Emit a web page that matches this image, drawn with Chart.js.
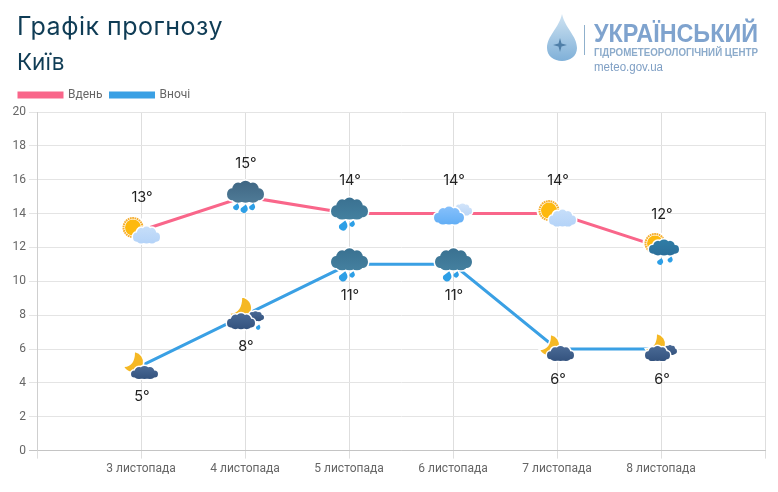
<!DOCTYPE html>
<html>
<head>
<meta charset="utf-8">
<script src="https://cdn.jsdelivr.net/npm/chart.js@4"></script>
<style>
    html, body { margin: 0; padding: 0; background: #fff; }
    #page { position: relative; width: 778px; height: 492px; overflow: hidden; }
    #chart { position: absolute; left: 0; top: 0; }
    .title { position: absolute; left: 17px; color: #0f3c55; font-family: Inter, "Open Sans", sans-serif; white-space: nowrap; }
    #logo { position: absolute; left: 540px; top: 8px; }
</style>
</head>
<body>
<div id="page">
    <canvas id="chart" width="778" height="492"></canvas>
    <div class="title" style="top: 11px; font-size: 25px; letter-spacing: 0.5px;">Графік прогнозу</div>
    <div class="title" style="top: 48px; font-size: 22.5px;">Київ</div>
    <svg id="logo" width="230" height="72" viewBox="0 0 230 72">
        <defs>
            <linearGradient id="dropFill" x1="0" y1="0" x2="0" y2="1">
                <stop offset="0" stop-color="#cfe3f2"/>
                <stop offset="1" stop-color="#7fb0d8"/>
            </linearGradient>
        </defs>
        <path d="M22 6 C25 20 37 28 37 40 C37 48 30 53 22 53 C14 53 7 48 7 40 C7 28 19 20 22 6 Z" fill="url(#dropFill)"/>
        <path d="M20 30 L21.5 35.5 L27 37 L21.5 38.5 L20 44 L18.500 38.5 L13 37 L18.500 35.5 Z" fill="#4f7fa8"/>
        <line x1="44.5" y1="17" x2="44.5" y2="47" stroke="#8fb0cc" stroke-width="1"/>
        <text x="54" y="34" font-family="Liberation Sans" font-weight="700" font-size="25" fill="#7fa3ce" textLength="164" lengthAdjust="spacingAndGlyphs">УКРАЇНСЬКИЙ</text>
        <text x="54" y="48" font-family="Liberation Sans" font-weight="700" font-size="10" fill="#8cabcb" textLength="164" lengthAdjust="spacingAndGlyphs">ГІДРОМЕТЕОРОЛОГІЧНИЙ ЦЕНТР</text>
        <text x="54" y="63" font-family="Liberation Sans" font-size="12" fill="#7f9fc4" textLength="69" lengthAdjust="spacingAndGlyphs">meteo.gov.ua</text>
    </svg>
</div>
<script>
const dates = ['', '3 листопада', '4 листопада', '5 листопада', '6 листопада', '7 листопада', '8 листопада', ''];
const dayTemps = [null, 13, 15, 14, 14, 14, 12, null];
const nightTemps = [null, 5, 8, 11, 11, 6, 6, null];
const dayIcons = [null, 'sunCloud', 'rainThree', 'rainTwo', 'lightClouds', 'sunCloud', 'sunRain', null];
const nightIcons = [null, 'moonCloudLow', 'moonRain', 'rainTwo', 'rainTwo', 'moonCloud', 'moonTwo', null];

const HALO = 3;

function cloudPath(ctx, x, y, w, h) {
    const bumps = [
        [.13, .62, .13, .27], [.30, .40, .16, .32], [.50, .28, .17, .28],
        [.70, .40, .16, .32], [.87, .62, .13, .27], [.30, .76, .18, .24],
        [.50, .78, .18, .22], [.70, .76, .18, .24], [.50, .55, .30, .30]
    ];
    ctx.beginPath();
    bumps.forEach((b) => {
        ctx.moveTo(x + (b[0] + b[2]) * w, y + b[1] * h);
        ctx.ellipse(x + b[0] * w, y + b[1] * h, b[2] * w, b[3] * h, 0, 0, Math.PI * 2);
    });
}

function drawCloud(ctx, x, y, w, h, top, bottom) {
    cloudPath(ctx, x, y, w, h);
    ctx.strokeStyle = '#fff';
    ctx.lineWidth = HALO;
    ctx.stroke();
    const fill = ctx.createLinearGradient(0, y, 0, y + h);
    fill.addColorStop(0, top);
    fill.addColorStop(1, bottom);
    ctx.fillStyle = fill;
    ctx.fill();
}

function drawSun(ctx, x, y, r) {
    ctx.beginPath();
    ctx.arc(x, y, r + 1, 0, Math.PI * 2);
    ctx.strokeStyle = '#fff';
    ctx.lineWidth = HALO;
    ctx.stroke();
    ctx.fillStyle = '#fff';
    ctx.fill();
    ctx.beginPath();
    ctx.arc(x, y, r - 0.5, 0, Math.PI * 2);
    ctx.setLineDash([1.7, 0.6]);
    ctx.strokeStyle = '#f6ad2b';
    ctx.lineWidth = 2;
    ctx.stroke();
    ctx.setLineDash([]);
    ctx.beginPath();
    ctx.arc(x, y, r - 2, 0, Math.PI * 2);
    ctx.fillStyle = '#fdb90f';
    ctx.fill();
}

function drawMoon(ctx, x, y, r) {
    ctx.beginPath();
    ctx.arc(x, y, r, -1.37, 2.6);
    ctx.quadraticCurveTo(x + r * 0.2, y + r * 0.4, x + r * 0.2, y - r * 0.98);
    ctx.closePath();
    ctx.strokeStyle = '#fff';
    ctx.lineWidth = HALO;
    ctx.stroke();
    ctx.fillStyle = '#f5b824';
    ctx.fill();
}

function drawDrop(ctx, x, y, size) {
    ctx.beginPath();
    ctx.moveTo(x + size * 0.45, y - size);
    ctx.quadraticCurveTo(x + size * 1.2, y + size * 0.1, x + size * 0.7, y + size * 0.6);
    ctx.arc(x, y + size * 0.2, size * 0.8, 0.5, Math.PI + 0.4);
    ctx.closePath();
    ctx.fillStyle = '#2d9fe6';
    ctx.fill();
}

const iconPainters = {
    sunCloud(ctx, x, y) {
        drawSun(ctx, x - 8, y - 3, 10);
        drawCloud(ctx, x - 8, y - 4, 27, 17, '#c6def9', '#b4d3f8');
    },
    rainThree(ctx, x, y) {
        drawCloud(ctx, x - 18, y - 16, 37, 22, '#3f6683', '#4f7b97');
        drawDrop(ctx, x - 9, y + 10, 3.5);
        drawDrop(ctx, x - 1, y + 12, 4.2);
        drawDrop(ctx, x + 7, y + 10, 3.5);
    },
    rainTwo(ctx, x, y) {
        drawCloud(ctx, x - 18, y - 16, 37, 22, '#3a7191', '#44809f');
        drawDrop(ctx, x - 6, y + 12, 5);
        drawDrop(ctx, x + 3, y + 10, 3.2);
    },
    lightClouds(ctx, x, y) {
        drawCloud(ctx, x, y - 10, 19, 12, '#d2e4fa', '#bcd6f6');
        drawCloud(ctx, x - 19, y - 7, 30, 18, '#86c0fb', '#62aef5');
    },
    sunRain(ctx, x, y) {
        drawSun(ctx, x - 6, y - 4, 10);
        drawCloud(ctx, x - 12, y - 8, 30, 16, '#2f7da6', '#2c6f9a');
        drawDrop(ctx, x - 1, y + 14, 3.5);
        drawDrop(ctx, x + 9, y + 12, 3);
    },
    moonCloud(ctx, x, y) {
        drawMoon(ctx, x - 8, y - 4, 10);
        drawCloud(ctx, x - 10, y - 3, 27, 15, '#4a6a96', '#34537e');
    },
    moonCloudLow(ctx, x, y) {
        drawMoon(ctx, x - 8, y - 4, 10);
        drawCloud(ctx, x - 10, y, 27, 13, '#4a6a96', '#34537e');
    },
    moonRain(ctx, x, y) {
        drawMoon(ctx, x - 5, y - 7, 11);
        drawCloud(ctx, x + 2, y - 4, 17, 10, '#4a6a96', '#34537e');
        drawCloud(ctx, x - 18, y - 2, 28, 16, '#4a6a96', '#34537e');
        drawDrop(ctx, x + 13, y + 12, 2.6);
    },
    moonTwo(ctx, x, y) {
        drawMoon(ctx, x - 6, y - 5, 10);
        drawCloud(ctx, x + 2, y - 4, 14, 10, '#4a6a96', '#34537e');
        drawCloud(ctx, x - 16, y - 3, 25, 15, '#4a6a96', '#34537e');
    }
};

// icons and the degree labels are painted on top of the lines
const weatherMarks = {
    id: 'weatherMarks',
    beforeInit(chart) {
        // a little more room under the legend
        const fit = chart.legend.fit;
        chart.legend.fit = function () {
            fit.call(this);
            this.height += 1;
        };
    },
    afterDatasetsDraw(chart) {
        const ctx = chart.ctx;
        const x = chart.scales.x;
        const y = chart.scales.y;
        const series = [
            { temps: dayTemps, icons: dayIcons, shift: -33 },
            { temps: nightTemps, icons: nightIcons, shift: 31 }
        ];
        ctx.save();
        series.forEach((s) => {
            s.temps.forEach((temp, i) => {
                if (temp === null) {
                    return;
                }
                const px = x.getPixelForValue(i);
                const py = y.getPixelForValue(temp);
                iconPainters[s.icons[i]](ctx, px, py);
                ctx.fillStyle = '#222';
                ctx.font = '14.5px Inter, "Open Sans", sans-serif';
                ctx.textAlign = 'center';
                ctx.textBaseline = 'middle';
                ctx.fillText(temp + '°', px + 1, py + s.shift);
            });
        });
        ctx.restore();
    }
};

new Chart(document.getElementById('chart'), {
    type: 'line',
    data: {
        labels: dates,
        datasets: [
            { label: 'Вдень', data: dayTemps, borderColor: '#f9668a', backgroundColor: '#f9668a', borderWidth: 3, pointRadius: 0 },
            { label: 'Вночі', data: nightTemps, borderColor: '#3aa0e4', backgroundColor: '#3aa0e4', borderWidth: 3, pointRadius: 0 }
        ]
    },
    options: {
        responsive: false,
        animation: false,
        layout: { padding: { left: 11, right: 13, top: 81, bottom: 13 } },
        plugins: {
            tooltip: { enabled: false },
            legend: {
                position: 'top',
                align: 'start',
                labels: {
                    boxWidth: 43,
                    boxHeight: 4,
                    padding: 8,
                    color: '#666',
                    font: { family: 'Roboto', size: 12 }
                }
            }
        },
        scales: {
            x: {
                grid: { color: '#dedede', tickLength: 8 },
                border: { color: '#c4c4c4' },
                ticks: {
                    color: '#666',
                    font: { family: 'Roboto', size: 12 },
                    autoSkip: false,
                    maxRotation: 0
                }
            },
            y: {
                min: 0,
                max: 20,
                afterFit(scale) {
                    scale.width = 26;
                },
                grid: {
                    tickLength: 8,
                    color: (c) => (c.tick.value === 0 ? '#c4c4c4' : '#e4e4e4')
                },
                border: { color: '#cfcfcf' },
                ticks: {
                    stepSize: 2,
                    color: '#666',
                    font: { family: 'Roboto', size: 12 }
                }
            }
        }
    },
    plugins: [weatherMarks]
});
</script>
</body>
</html>
